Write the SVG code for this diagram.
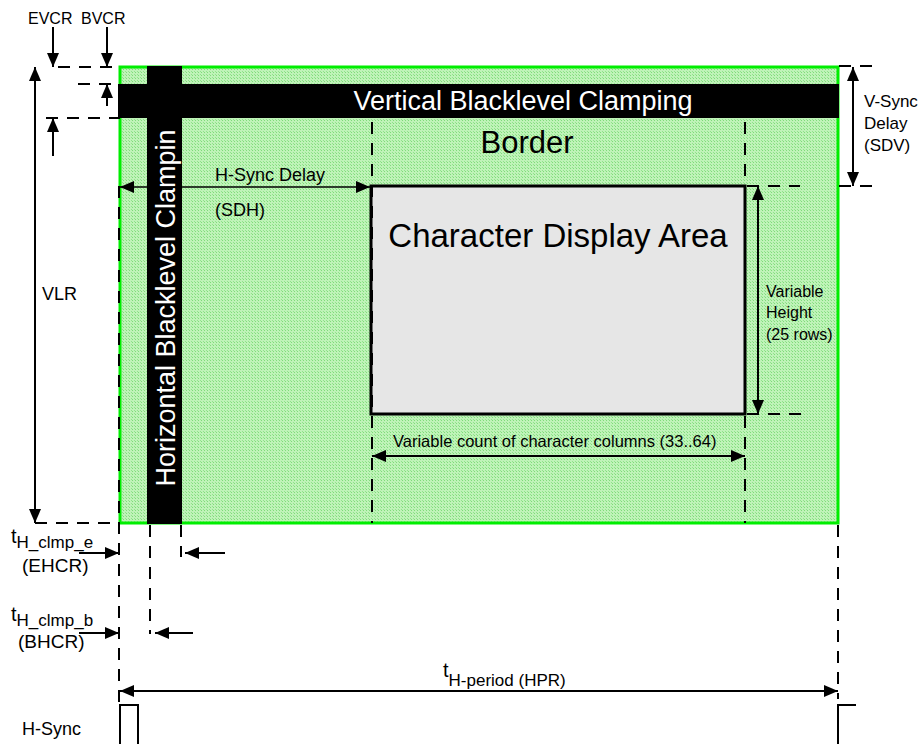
<svg xmlns="http://www.w3.org/2000/svg" width="923" height="744" viewBox="0 0 923 744">
<defs>
<pattern id="hatch" width="3" height="3" patternUnits="userSpaceOnUse">
<rect width="3" height="3" fill="#bff3b8"/>
<rect width="1" height="1" fill="#7fdc7a"/>
<rect x="2" y="2" width="1" height="1" fill="#92e28d"/>
</pattern>
<marker id="ah" markerUnits="userSpaceOnUse" markerWidth="14" markerHeight="12" viewBox="0 0 14 12" refX="14" refY="6" orient="auto-start-reverse">
<path d="M0,0 L14,6 L0,12 z" fill="#000"/>
</marker>
</defs>
<style>
text{font-family:"Liberation Sans",Arial,sans-serif;fill:#000}
.ln{stroke:#000;stroke-width:2;fill:none}
.thin{stroke:#000;stroke-width:1.5;fill:none}
.dash{stroke:#000;stroke-width:2;fill:none;stroke-dasharray:12 9}
.lbl{font-size:17px}
.w{fill:#fff}
</style>
<g id="screen">
<rect x="120" y="67" width="718" height="456" fill="url(#hatch)" stroke="#00ee00" stroke-width="3"/>
</g>
<g id="vbc">
<rect x="118" y="84" width="721" height="34" fill="#000"/>
<text x="523" y="110" font-size="27" text-anchor="middle" class="w">Vertical Blacklevel Clamping</text>
</g>
<g id="hbc">
<rect x="147" y="66" width="35" height="458" fill="#000"/>
<text transform="translate(175,308) rotate(-90)" font-size="27" text-anchor="middle" class="w">Horizontal Blacklevel Clampin</text>
</g>
<g id="border">
<text x="527" y="153" font-size="31" text-anchor="middle">Border</text>
</g>
<g id="cda">
<rect x="371" y="186" width="374" height="228" fill="#e6e6e6" stroke="#000" stroke-width="3"/>
<text x="558" y="247" font-size="33" text-anchor="middle">Character Display Area</text>
</g>
<g id="connectors">
<line class="ln" x1="53" y1="27" x2="53" y2="67" marker-end="url(#ah)"/>
<line class="ln" x1="107" y1="27" x2="107" y2="67" marker-end="url(#ah)"/>
<line class="ln" x1="107" y1="106" x2="107" y2="84" marker-end="url(#ah)"/>
<line class="ln" x1="53" y1="156" x2="53" y2="118" marker-end="url(#ah)"/>
<line class="ln" x1="35" y1="67" x2="35" y2="523" marker-start="url(#ah)" marker-end="url(#ah)"/>
<line class="dash" x1="58" y1="67" x2="120" y2="67"/>
<line class="dash" x1="78" y1="84" x2="120" y2="84"/>
<line class="dash" x1="46" y1="118" x2="120" y2="118"/>
<line class="dash" x1="35" y1="523" x2="120" y2="523"/>
<line class="ln" x1="853" y1="67" x2="853" y2="186" marker-start="url(#ah)" marker-end="url(#ah)"/>
<line class="dash" x1="839" y1="66" x2="873" y2="66"/>
<line class="dash" x1="839" y1="186" x2="873" y2="186"/>
<line class="dash" x1="747" y1="186" x2="800" y2="186"/>
<line class="dash" x1="747" y1="414" x2="807" y2="414"/>
<line class="ln" x1="758" y1="186" x2="758" y2="414" marker-start="url(#ah)" marker-end="url(#ah)"/>
<line class="thin" x1="120" y1="187" x2="370" y2="187" marker-start="url(#ah)" marker-end="url(#ah)"/>
<line class="ln" x1="372" y1="456" x2="745" y2="456" marker-start="url(#ah)" marker-end="url(#ah)"/>
<line class="dash" x1="372" y1="122" x2="372" y2="523"/>
<line class="dash" x1="745" y1="122" x2="745" y2="523"/>
<line class="dash" x1="119" y1="186" x2="119" y2="702"/>
<line class="dash" x1="150" y1="525" x2="150" y2="634"/>
<line class="dash" x1="181" y1="525" x2="181" y2="557"/>
<line class="dash" x1="838" y1="525" x2="838" y2="699"/>
<line class="ln" x1="79" y1="553" x2="119" y2="553" marker-end="url(#ah)"/>
<line class="ln" x1="225" y1="553" x2="185" y2="553" marker-end="url(#ah)"/>
<line class="ln" x1="79" y1="633" x2="119" y2="633" marker-end="url(#ah)"/>
<line class="ln" x1="193" y1="633" x2="155" y2="633" marker-end="url(#ah)"/>
<line class="ln" x1="120" y1="691" x2="838" y2="691" marker-start="url(#ah)" marker-end="url(#ah)"/>
<path class="ln" d="M120,744 V705 H138 V744"/>
<path class="ln" d="M838,744 V705 H856"/>
</g>
<g id="labels">
<text x="28" y="24" font-size="16">EVCR</text>
<text x="81" y="24" font-size="16">BVCR</text>
<text x="42" y="300" font-size="18">VLR</text>
<text x="864" y="107" class="lbl">V-Sync</text>
<text x="864" y="129" class="lbl">Delay</text>
<text x="864" y="151" class="lbl">(SDV)</text>
<text x="215" y="181" font-size="18">H-Sync Delay</text>
<text x="215" y="216" font-size="18">(SDH)</text>
<text x="766" y="297" font-size="16">Variable</text>
<text x="766" y="318" font-size="16">Height</text>
<text x="766" y="340" font-size="16">(25 rows)</text>
<text x="393" y="447" font-size="16.5">Variable count of character columns (33..64)</text>
<text x="11" y="543" font-size="20">t<tspan font-size="17" dy="5">H_clmp_e</tspan></text>
<text x="22" y="572" font-size="19">(EHCR)</text>
<text x="11" y="621" font-size="20">t<tspan font-size="17" dy="5">H_clmp_b</tspan></text>
<text x="18" y="648" font-size="19">(BHCR)</text>
<text x="443" y="677" font-size="20">t<tspan font-size="17" dy="9">H-period (HPR)</tspan></text>
<text x="22" y="735" font-size="18">H-Sync</text>
</g>
</svg>
